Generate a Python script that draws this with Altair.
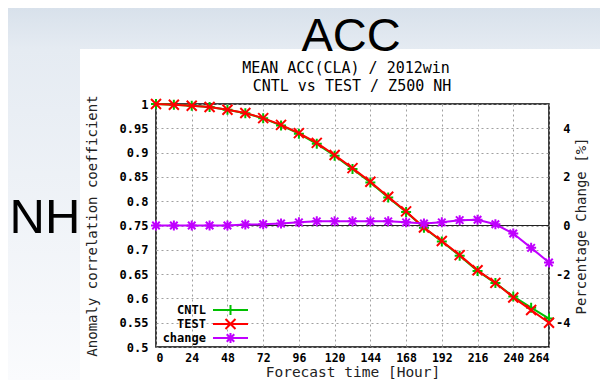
import altair as alt
import pandas as pd

# ---------------- data ----------------
hours = [0, 12, 24, 36, 48, 60, 72, 84, 96, 108, 120, 132, 144, 156, 168,
         180, 192, 204, 216, 228, 240, 252, 264]
test = [1.000, 0.9985, 0.9965, 0.9938, 0.988, 0.9815, 0.971, 0.957, 0.940,
        0.920, 0.895, 0.868, 0.840, 0.809, 0.779, 0.746, 0.718, 0.689,
        0.658, 0.632, 0.602, 0.576, 0.550]
cntl = [1.000, 0.9985, 0.9965, 0.9938, 0.988, 0.981, 0.9705, 0.956, 0.939,
        0.918, 0.8935, 0.8665, 0.8385, 0.8075, 0.778, 0.7455, 0.717, 0.688,
        0.6565, 0.6315, 0.604, 0.581, 0.5585]
change = [0.0, 0.0, 0.0, 0.0, 0.0, 0.04, 0.05, 0.08, 0.13, 0.17, 0.17, 0.17,
          0.17, 0.17, 0.13, 0.08, 0.13, 0.22, 0.24, 0.05, -0.33, -0.92, -1.52]

series_names = ["CNTL", "TEST", "change"]
series_colors = ["#00c000", "#ff0000", "#c000ff"]
PLUS = "M-1,0L1,0M0,-1L0,1"
CROSS = "M-1,-1L1,1M-1,1L1,-1"
STAR = "M-1,0L1,0M0,-1L0,1M-0.75,-0.75L0.75,0.75M-0.75,0.75L0.75,-0.75"
series_shapes = [PLUS, CROSS, STAR]

x_ticks = [0, 24, 48, 72, 96, 120, 144, 168, 192, 216, 240, 264]
left_ticks = [0.5, 0.55, 0.6, 0.65, 0.7, 0.75, 0.8, 0.85, 0.9, 0.95, 1.0]
right_ticks = [-4, -2, 0, 2, 4]

title_lines = ["MEAN ACC(CLA) / 2012win", "CNTL vs TEST / Z500 NH"]
big_title = "ACC"
side_label = "NH"

df = pd.DataFrame({"hour": hours, "cntl": cntl, "test": test, "change": change})
leg = pd.DataFrame({"series": series_names})
one = pd.DataFrame({"k": [0]})

# ---------------- layout ----------------
W, H = 393, 243
PAD_L, PAD_T = 148, 96
SVG_W, SVG_H = 592, 372
PANEL_L = 80 - 8 - PAD_L   # relative to plot origin
PANEL_T = 49 - 8 - PAD_T
MONO = "DejaVu Sans Mono"

grad_top = alt.Gradient(gradient="linear", x1=0, x2=0, y1=0, y2=1,
                        stops=[alt.GradientStop(offset=0, color="#d8e1eb"),
                               alt.GradientStop(offset=1, color="#e5ebf2")])
grad_left = alt.Gradient(gradient="linear", x1=0, x2=0, y1=0, y2=1,
                         stops=[alt.GradientStop(offset=0, color="#e5ebf2"),
                                alt.GradientStop(offset=1, color="#fafbfd")])

bg_top = alt.Chart(one).mark_rect(color=grad_top).encode(
    x=alt.value(-PAD_L), x2=alt.value(SVG_W - PAD_L),
    y=alt.value(-PAD_T), y2=alt.value(PANEL_T))
bg_left = alt.Chart(one).mark_rect(color=grad_left).encode(
    x=alt.value(-PAD_L), x2=alt.value(PANEL_L),
    y=alt.value(PANEL_T), y2=alt.value(SVG_H - PAD_T))

acc_text = alt.Chart(one).mark_text(
    text=big_title, font="Liberation Sans", fontSize=47, align="center",
    baseline="alphabetic", color="black").encode(
    x=alt.value(195), y=alt.value(-53))
nh_text = alt.Chart(one).mark_text(
    text=side_label, font="Liberation Sans", fontSize=49, align="center",
    baseline="alphabetic", color="black").encode(
    x=alt.value(-111), y=alt.value(129))
title1 = alt.Chart(one).mark_text(
    text=title_lines[0], font=MONO, fontSize=15, align="center",
    baseline="middle", color="black").encode(x=alt.value(190), y=alt.value(-36))
title2 = alt.Chart(one).mark_text(
    text=title_lines[1], font=MONO, fontSize=15, align="center",
    baseline="middle", color="black").encode(x=alt.value(196), y=alt.value(-18))

x_scale = alt.Scale(domain=[0, 264], nice=False, zero=False)
x_axis = alt.Axis(values=x_ticks, grid=True, title="Forecast time [Hour]",
                  titleX=W / 2, titleY=25, titleBaseline="middle",
                  titleAlign="center", titleFontSize=14.5, labelPadding=5,
                  labelFontSize=11.5)
x_enc = alt.X("hour:Q", scale=x_scale, axis=x_axis)

left_scale = alt.Scale(domain=[0.5, 1.0], nice=False, zero=False)
left_axis = alt.Axis(values=left_ticks, grid=True, format="~g",
                     title="Anomaly correlation coefficient", orient="left",
                     titleX=-64, titleY=H / 2, titleAngle=270,
                     titleBaseline="middle", titleAlign="center",
                     labelPadding=8)
right_scale = alt.Scale(domain=[-5, 5], nice=False, zero=False)
right_axis = alt.Axis(values=right_ticks, grid=False, orient="right",
                      labelExpr="'' + datum.value", labelAlign="right",
                      labelPadding=21, title="Percentage Change [%]",
                      titleX=32, titleY=H / 2, titleAngle=270,
                      titleBaseline="middle", titleAlign="center")

zero_rule = alt.Chart(df).mark_rule(color="#222222", strokeWidth=1.2).encode(
    y=alt.YDatum(0.75, type="quantitative", scale=left_scale, axis=left_axis))


def series_layers(field, color, shape, axis, scale):
    y = alt.Y(f"{field}:Q", scale=scale, axis=axis)
    line = alt.Chart(df).mark_line(color=color, strokeWidth=2).encode(x=x_enc, y=y)
    pts = alt.Chart(df).mark_point(shape=shape, color=color, filled=False,
                                   strokeWidth=2, size=100, opacity=1).encode(x=x_enc, y=y)
    return [line, pts]


left_layer = alt.layer(
    zero_rule,
    *series_layers("cntl", series_colors[0], PLUS, left_axis, left_scale),
    *series_layers("test", series_colors[1], CROSS, left_axis, left_scale),
)
right_layer = alt.layer(
    *series_layers("change", series_colors[2], STAR, right_axis, right_scale))

leg_y = alt.Y("series:N", axis=None,
              scale=alt.Scale(type="point", domain=series_names,
                              range=[206, 234], padding=0))
leg_color = alt.Color("series:N", legend=None,
                      scale=alt.Scale(domain=series_names, range=series_colors))
leg_shape = alt.Shape("series:N", legend=None,
                      scale=alt.Scale(domain=series_names, range=series_shapes))
leg_line = alt.Chart(leg).mark_rule(strokeWidth=2).encode(
    x=alt.value(57), x2=alt.value(92), y=leg_y, color=leg_color)
leg_pts = alt.Chart(leg).mark_point(filled=False, strokeWidth=2, size=100, opacity=1).encode(
    x=alt.value(74.5), y=leg_y, color=leg_color, shape=leg_shape)
leg_txt = alt.Chart(leg).mark_text(align="right", baseline="middle", font=MONO,
                                   fontWeight="bold", fontSize=12, color="black").encode(
    x=alt.value(50), y=leg_y, text="series:N")
legend_layer = alt.layer(leg_line, leg_pts, leg_txt)

chart = alt.layer(
    bg_top, bg_left, acc_text, nh_text, title1, title2,
    left_layer, right_layer, legend_layer
).resolve_scale(y="independent").properties(
    width=W, height=H,
    autosize=alt.AutoSizeParams(type="none"),
    padding={"left": PAD_L, "top": PAD_T,
             "right": SVG_W - PAD_L - W, "bottom": SVG_H - PAD_T - H},
).configure(background="white").configure_view(
    stroke="black", strokeWidth=1.5, fill="white"
).configure_axis(
    labelFont=MONO, labelFontWeight="bold", labelFontSize=12, labelColor="black",
    titleFont=MONO, titleFontWeight="normal", titleFontSize=14, titleColor="#222222",
    domain=False, ticks=False, gridColor="#a0a0a0", gridDash=[2, 3], gridWidth=1,
    gridOpacity=1,
)

chart.save("out.html", embed_options={"renderer": "svg", "actions": False})
